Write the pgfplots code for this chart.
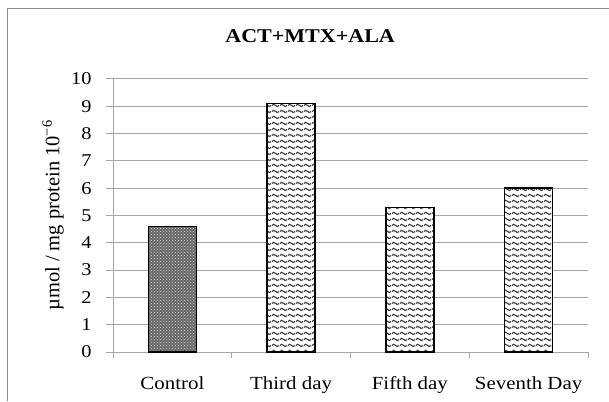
\documentclass[border=0pt]{standalone}
\usepackage{fontspec}
\setmainfont{Liberation Serif}[FakeStretch=1.13]
\newfontfamily\labelfont{Liberation Serif}
\usepackage{pgfplots}
\pgfplotsset{compat=1.18}
\usetikzlibrary{patterns}
\pgfdeclarepatternformonly{mywaves}{\pgfpoint{0pt}{0pt}}{\pgfpoint{8pt}{6pt}}{\pgfpoint{8pt}{6pt}}{%
  \pgfsetlinewidth{1.3pt}%
  \pgfpathmoveto{\pgfpoint{0pt}{3pt}}%
  \pgfpathcurveto{\pgfpoint{1.33pt}{4.7pt}}{\pgfpoint{2.67pt}{4.7pt}}{\pgfpoint{4pt}{3pt}}%
  \pgfpathcurveto{\pgfpoint{5.33pt}{1.3pt}}{\pgfpoint{6.67pt}{1.3pt}}{\pgfpoint{8pt}{3pt}}%
  \pgfusepath{stroke}}
\definecolor{gridgray}{HTML}{A6A6A6}
\definecolor{framegray}{HTML}{8C8C8C}
\begin{document}
\begin{tikzpicture}
\useasboundingbox (0,0) rectangle (609pt,401pt);
\draw[framegray, line width=1pt] (7pt,0) -- (7pt,392pt) -- (609pt,392pt);
\begin{axis}[
  at={(113pt,49pt)}, anchor=south west,
  scale only axis, width=475pt, height=273pt,
  xmin=-0.5, xmax=3.5, ymin=0, ymax=10,
  xtick={0,1,2,3},
  xticklabels={Control, Third day, Fifth day, Seventh Day},
  minor xtick={-0.5,0.5,1.5,2.5,3.5},
  ytick={0,1,...,10},
  axis x line*=bottom, axis y line*=left,
  axis line style={gridgray, line width=1pt},
  tick align=outside, tick pos=left,
  major x tick style={draw=none},
  minor x tick style={gridgray, line width=1pt},
  minor tick length=6pt,
  major tick length=7pt,
  ytick style={gridgray, line width=1pt},
  ymajorgrids, grid style={gridgray, line width=1pt},
  /pgf/number format/assume math mode=true,
  ticklabel style={font=\fontsize{18}{20}\selectfont},
  xticklabel style={font=\fontsize{18.5}{20}\selectfont, anchor=base, yshift=-30pt},
  yticklabel style={xshift=-11pt},
  ylabel={\labelfont µmol / mg protein 10\textsuperscript{−6}},
  ylabel style={at={(axis description cs:-0.1263,0.5)}, anchor=center, font=\fontsize{20.5}{22}\selectfont},
  title={\bfseries ACT+MTX+ALA},
  title style={at={(axis description cs:0.415,1.135)}, anchor=center, font=\fontsize{19.5}{22}\selectfont},
  ybar, bar width=48pt,
]
\addplot[bar shift=0pt, draw=black, line width=1.5pt, fill=black!60,
  postaction={pattern=crosshatch dots, pattern color=white!85!black}]
  coordinates {(0,4.6)};
\addplot[bar shift=0pt, draw=black, line width=1.5pt, fill=white,
  postaction={pattern=mywaves, pattern color=black!75}]
  coordinates {(1,9.1) (2,5.3) (3,6.0)};
\end{axis}
\end{tikzpicture}
\end{document}
